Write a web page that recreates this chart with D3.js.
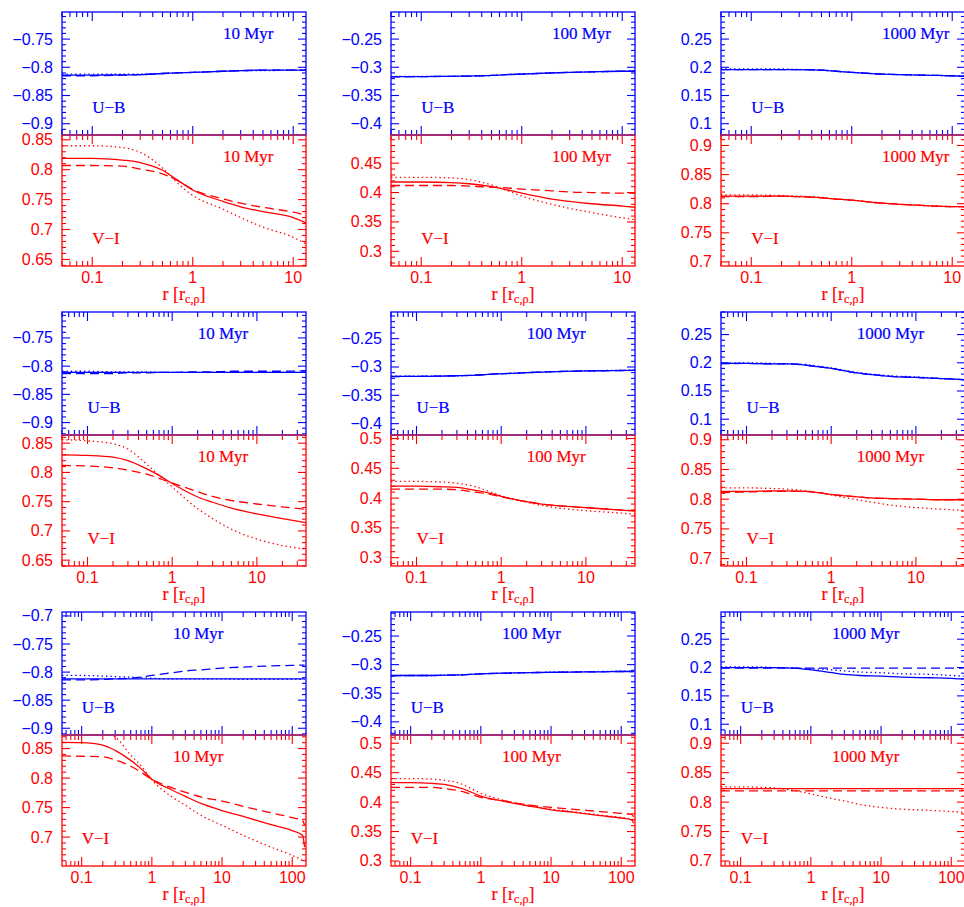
<!DOCTYPE html>
<html>
<head>
<meta charset="utf-8">
<script src="https://cdnjs.cloudflare.com/ajax/libs/d3/7.8.5/d3.min.js"></script>
<style>
  body { margin: 0; background: #fff; }
  svg { display: block; }
</style>
</head>
<body>
<svg id="chart" width="964" height="907"></svg>
<script>
// ---- data ----
const ages = ["10 Myr", "100 Myr", "1000 Myr"];

// radial sample points for each row, in units of r_c,rho
const rRow1 = [0.05, 0.1, 0.2, 0.3, 0.5, 0.7, 1, 2, 3, 5, 10, 13.4];
const rRow2 = [0.05, 0.1, 0.2, 0.3, 0.5, 0.7, 1, 2, 3, 5, 10, 20, 38];
const rRow3 = [0.0525, 0.1, 0.2, 0.3, 0.5, 0.7, 1, 2, 3, 5, 10, 20, 50, 100, 140, 150];

// x extent per row, y extent per panel
const xDomains = [[0.05, 13.4], [0.05, 38], [0.0525, 157]];
const ubDomains = [
  [[-0.92, -0.702], [-0.42, -0.202], [0.08, 0.298]],
  [[-0.922, -0.704], [-0.42, -0.203], [0.072, 0.29]],
  [[-0.912, -0.693], [-0.423, -0.208], [0.081, 0.298]]
];
const viDomains = [
  [[0.639, 0.858], [0.275, 0.498], [0.693, 0.918]],
  [[0.64, 0.864], [0.286, 0.506], [0.6875, 0.908]],
  [[0.651, 0.873], [0.2915, 0.514], [0.6915, 0.914]]
];

// row 1
const ub1_10 = {
  solid:  [-0.814, -0.814, -0.8135, -0.813, -0.811, -0.810, -0.809, -0.807, -0.806, -0.805, -0.805, -0.805],
  dashed: [-0.815, -0.815, -0.814, -0.813, -0.811, -0.810, -0.809, -0.807, -0.806, -0.805, -0.805, -0.805],
  dotted: [-0.812, -0.812, -0.812, -0.812, -0.811, -0.810, -0.809, -0.807, -0.806, -0.806, -0.805, -0.805]
};
const vi1_10 = {
  solid:  [0.819, 0.819, 0.816, 0.812, 0.799, 0.783, 0.766, 0.747, 0.738, 0.730, 0.720, 0.711],
  dashed: [0.807, 0.807, 0.806, 0.801, 0.793, 0.782, 0.767, 0.751, 0.744, 0.737, 0.729, 0.724],
  dotted: [0.840, 0.840, 0.837, 0.829, 0.803, 0.778, 0.757, 0.734, 0.720, 0.704, 0.687, 0.676]
};
const ub1_100 = {
  solid:  [-0.3165, -0.3165, -0.316, -0.3155, -0.3145, -0.313, -0.312, -0.310, -0.309, -0.308, -0.307, -0.307],
  dashed: [-0.317, -0.3165, -0.316, -0.3155, -0.3145, -0.313, -0.312, -0.310, -0.309, -0.308, -0.307, -0.307],
  dotted: [-0.316, -0.316, -0.316, -0.3155, -0.3145, -0.313, -0.312, -0.310, -0.309, -0.308, -0.307, -0.3065]
};
const vi1_100 = {
  solid:  [0.418, 0.418, 0.417, 0.415, 0.410, 0.405, 0.399, 0.389, 0.385, 0.381, 0.377, 0.375],
  dashed: [0.412, 0.412, 0.412, 0.411, 0.409, 0.408, 0.406, 0.403, 0.401, 0.400, 0.399, 0.399],
  dotted: [0.426, 0.426, 0.425, 0.422, 0.413, 0.404, 0.394, 0.380, 0.373, 0.366, 0.357, 0.354]
};
const ub1_1000 = {
  solid:  [0.196, 0.196, 0.196, 0.196, 0.195, 0.193, 0.191, 0.188, 0.187, 0.186, 0.185, 0.184],
  dashed: [0.196, 0.196, 0.196, 0.196, 0.195, 0.193, 0.191, 0.188, 0.187, 0.186, 0.185, 0.184],
  dotted: [0.197, 0.197, 0.197, 0.196, 0.195, 0.193, 0.191, 0.188, 0.187, 0.186, 0.185, 0.184]
};
const vi1_1000 = {
  solid:  [0.813, 0.813, 0.813, 0.812, 0.810, 0.808, 0.806, 0.801, 0.799, 0.797, 0.795, 0.795],
  dashed: [0.812, 0.812, 0.813, 0.812, 0.810, 0.808, 0.806, 0.801, 0.799, 0.797, 0.795, 0.795],
  dotted: [0.815, 0.815, 0.814, 0.813, 0.811, 0.808, 0.806, 0.801, 0.799, 0.797, 0.795, 0.794]
};

// row 2
const ub2_10 = {
  solid:  [-0.811, -0.811, -0.811, -0.811, -0.811, -0.811, -0.811, -0.811, -0.811, -0.811, -0.811, -0.811, -0.811],
  dashed: [-0.813, -0.813, -0.813, -0.812, -0.812, -0.811, -0.811, -0.810, -0.810, -0.809, -0.809, -0.809, -0.808],
  dotted: [-0.809, -0.809, -0.810, -0.810, -0.810, -0.811, -0.811, -0.811, -0.811, -0.811, -0.811, -0.811, -0.811]
};
const vi2_10 = {
  solid:  [0.830, 0.829, 0.826, 0.820, 0.806, 0.795, 0.781, 0.758, 0.749, 0.739, 0.729, 0.721, 0.714],
  dashed: [0.812, 0.811, 0.808, 0.804, 0.797, 0.790, 0.782, 0.767, 0.759, 0.752, 0.746, 0.741, 0.737],
  dotted: [0.856, 0.854, 0.849, 0.840, 0.814, 0.795, 0.775, 0.738, 0.721, 0.703, 0.686, 0.675, 0.669]
};
const ub2_100 = {
  solid:  [-0.3165, -0.3165, -0.316, -0.3155, -0.3145, -0.313, -0.312, -0.310, -0.309, -0.308, -0.307, -0.3065, -0.306],
  dashed: [-0.317, -0.3165, -0.316, -0.3155, -0.3145, -0.313, -0.312, -0.310, -0.309, -0.308, -0.307, -0.3065, -0.306],
  dotted: [-0.316, -0.316, -0.316, -0.3155, -0.3145, -0.313, -0.312, -0.310, -0.309, -0.308, -0.307, -0.306, -0.3055]
};
const vi2_100 = {
  solid:  [0.420, 0.420, 0.419, 0.418, 0.413, 0.409, 0.403, 0.394, 0.390, 0.387, 0.384, 0.381, 0.378],
  dashed: [0.415, 0.415, 0.415, 0.414, 0.410, 0.407, 0.402, 0.394, 0.390, 0.387, 0.384, 0.381, 0.379],
  dotted: [0.428, 0.428, 0.427, 0.425, 0.419, 0.412, 0.404, 0.393, 0.388, 0.383, 0.379, 0.376, 0.373]
};
const ub2_1000 = {
  solid:  [0.199, 0.199, 0.198, 0.198, 0.196, 0.193, 0.190, 0.182, 0.179, 0.176, 0.174, 0.172, 0.170],
  dashed: [0.198, 0.199, 0.198, 0.198, 0.196, 0.193, 0.190, 0.182, 0.179, 0.176, 0.174, 0.172, 0.170],
  dotted: [0.200, 0.200, 0.199, 0.198, 0.197, 0.194, 0.191, 0.183, 0.180, 0.177, 0.175, 0.172, 0.170]
};
const vi2_1000 = {
  solid:  [0.813, 0.813, 0.814, 0.814, 0.813, 0.811, 0.808, 0.804, 0.802, 0.801, 0.800, 0.799, 0.799],
  dashed: [0.811, 0.812, 0.813, 0.813, 0.813, 0.811, 0.808, 0.804, 0.802, 0.801, 0.800, 0.799, 0.799],
  dotted: [0.819, 0.819, 0.818, 0.817, 0.814, 0.811, 0.807, 0.799, 0.795, 0.790, 0.786, 0.783, 0.781]
};

// row 3
const ub3_10 = {
  solid:  [-0.812, -0.812, -0.812, -0.812, -0.812, -0.812, -0.812, -0.812, -0.812, -0.812, -0.812, -0.812, -0.812, -0.812, -0.812, -0.812],
  dashed: [-0.814, -0.814, -0.813, -0.812, -0.811, -0.809, -0.806, -0.801, -0.798, -0.796, -0.793, -0.791, -0.789, -0.788, -0.7875, -0.7875],
  dotted: [-0.806, -0.806, -0.807, -0.808, -0.809, -0.810, -0.811, -0.812, -0.812, -0.812, -0.812, -0.813, -0.813, -0.813, -0.813, -0.813]
};
const vi3_10 = {
  solid:  [0.8605, 0.860, 0.856, 0.847, 0.830, 0.816, 0.798, 0.779, 0.769, 0.757, 0.745, 0.735, 0.721, 0.711, 0.703, 0.683],
  dashed: [0.8375, 0.837, 0.836, 0.831, 0.820, 0.810, 0.798, 0.783, 0.776, 0.768, 0.761, 0.752, 0.741, 0.733, 0.728, 0.720],
  dotted: [0.885, 0.884, 0.879, 0.870, 0.839, 0.821, 0.797, 0.767, 0.754, 0.737, 0.720, 0.703, 0.683, 0.669, 0.660, 0.657]
};
const ub3_100 = {
  solid:  [-0.319, -0.319, -0.319, -0.3185, -0.318, -0.317, -0.316, -0.315, -0.3145, -0.314, -0.3135, -0.313, -0.3125, -0.312, -0.312, -0.312],
  dashed: [-0.3195, -0.319, -0.319, -0.3185, -0.318, -0.317, -0.316, -0.315, -0.3145, -0.314, -0.3135, -0.313, -0.3125, -0.312, -0.312, -0.312],
  dotted: [-0.319, -0.319, -0.319, -0.3185, -0.318, -0.317, -0.316, -0.315, -0.3145, -0.314, -0.313, -0.3125, -0.312, -0.3115, -0.3115, -0.3115]
};
const vi3_100 = {
  solid:  [0.433, 0.433, 0.432, 0.430, 0.424, 0.418, 0.410, 0.402, 0.398, 0.393, 0.387, 0.383, 0.377, 0.373, 0.370, 0.364],
  dashed: [0.425, 0.425, 0.425, 0.423, 0.419, 0.414, 0.408, 0.403, 0.399, 0.395, 0.391, 0.388, 0.384, 0.381, 0.379, 0.375],
  dotted: [0.440, 0.440, 0.439, 0.437, 0.432, 0.424, 0.415, 0.404, 0.399, 0.394, 0.388, 0.384, 0.378, 0.374, 0.371, 0.370]
};
const ub3_1000 = {
  solid:  [0.200, 0.200, 0.200, 0.200, 0.199, 0.198, 0.196, 0.191, 0.188, 0.186, 0.185, 0.183, 0.182, 0.181, 0.180, 0.180],
  dashed: [0.199, 0.199, 0.199, 0.199, 0.199, 0.199, 0.199, 0.199, 0.199, 0.199, 0.199, 0.199, 0.199, 0.199, 0.199, 0.199],
  dotted: [0.201, 0.201, 0.201, 0.200, 0.200, 0.199, 0.198, 0.196, 0.194, 0.192, 0.191, 0.189, 0.188, 0.186, 0.185, 0.185]
};
const vi3_1000 = {
  solid:  [0.823, 0.823, 0.823, 0.823, 0.823, 0.823, 0.823, 0.823, 0.823, 0.823, 0.823, 0.823, 0.823, 0.823, 0.823, 0.823],
  dashed: [0.819, 0.819, 0.819, 0.819, 0.819, 0.819, 0.819, 0.819, 0.819, 0.819, 0.819, 0.819, 0.819, 0.819, 0.819, 0.819],
  dotted: [0.826, 0.826, 0.825, 0.824, 0.821, 0.818, 0.814, 0.806, 0.802, 0.796, 0.791, 0.788, 0.786, 0.784, 0.783, 0.783]
};

const rGrids = [rRow1, rRow2, rRow3];
const panels = [
  [ub1_10, vi1_10], [ub1_100, vi1_100], [ub1_1000, vi1_1000],
  [ub2_10, vi2_10], [ub2_100, vi2_100], [ub2_1000, vi2_1000],
  [ub3_10, vi3_10], [ub3_100, vi3_100], [ub3_1000, vi3_1000]
];

// ---- layout ----
const blue = "#0000ff", red = "#ff0000", purple = "#9a2f86";
const colLeft = [62, 391, 721], plotW = 244;
const rowTop = [12, 312, 612], ubH = 123, viH = 131;
const dashes = { solid: null, dashed: "9,5", dotted: "1.4,3" };
const sans = "'Liberation Sans', Arial, sans-serif";
const serif = "'Liberation Serif', 'Times New Roman', serif";
const fmt = d3.format("~g");

const svg = d3.select("#chart");
let clipId = 0;

function yTickList(domain) {
  const out = [];
  const k0 = Math.ceil(domain[0] * 100 - 1e-9), k1 = Math.floor(domain[1] * 100 + 1e-9);
  for (let k = k0; k <= k1; k++) out.push({ v: k / 100, major: k % 5 === 0 });
  return out;
}

function isDecade(v) {
  const l = Math.log10(v);
  return Math.abs(l - Math.round(l)) < 1e-6;
}

// one sub panel (U-B or V-I) with its frame, ticks, curves and labels
function drawSub(x, top, h, domain, series, rGrid, color, name, age, isBottom) {
  const y = d3.scaleLinear().domain(domain).range([top + h, top]);
  const [xl, xr] = x.range();
  const g = svg.append("g");

  const id = "clip" + clipId++;
  svg.append("clipPath").attr("id", id)
    .append("rect").attr("x", xl).attr("y", top).attr("width", xr - xl).attr("height", h);

  const line = d3.line()
    .x((d, i) => x(rGrid[i]))
    .y(d => y(d))
    .curve(d3.curveMonotoneX);

  ["dotted", "dashed", "solid"].forEach(function (k) {
    g.append("path")
      .attr("clip-path", "url(#" + id + ")")
      .attr("d", line(series[k]))
      .attr("fill", "none")
      .attr("stroke", color)
      .attr("stroke-width", 1.3)
      .attr("stroke-dasharray", dashes[k]);
  });

  // y ticks, left and right, pointing inward
  yTickList(domain).forEach(function (t) {
    const len = t.major ? 8 : 4;
    const yy = y(t.v);
    g.append("line").attr("x1", xl).attr("x2", xl + len).attr("y1", yy).attr("y2", yy)
      .attr("stroke", color).attr("stroke-width", 1.1);
    g.append("line").attr("x1", xr).attr("x2", xr - len).attr("y1", yy).attr("y2", yy)
      .attr("stroke", color).attr("stroke-width", 1.1);
    if (t.major) {
      g.append("text")
        .attr("x", xl - 9).attr("y", yy)
        .attr("text-anchor", "end").attr("dominant-baseline", "central")
        .attr("font-family", sans).attr("font-size", 16).attr("fill", color)
        .text(fmt(t.v));
    }
  });

  // x ticks, top and bottom, pointing inward
  x.ticks().forEach(function (v) {
    const len = isDecade(v) ? 9 : 5;
    const xx = x(v);
    g.append("line").attr("x1", xx).attr("x2", xx).attr("y1", top).attr("y2", top + len)
      .attr("stroke", color).attr("stroke-width", 1.1);
    g.append("line").attr("x1", xx).attr("x2", xx).attr("y1", top + h).attr("y2", top + h - len)
      .attr("stroke", color).attr("stroke-width", 1.1);
    if (isBottom && isDecade(v)) {
      g.append("text")
        .attr("x", xx).attr("y", top + h + 17)
        .attr("text-anchor", "middle")
        .attr("font-family", sans).attr("font-size", 16).attr("fill", color)
        .text(fmt(v));
    }
  });

  g.append("rect")
    .attr("x", xl).attr("y", top).attr("width", xr - xl).attr("height", h)
    .attr("fill", "none").attr("stroke", color).attr("stroke-width", 1.3);

  g.append("text")
    .attr("x", x(2)).attr("y", top + 27)
    .attr("font-family", serif).attr("font-size", 17).attr("fill", color)
    .attr("stroke", color).attr("stroke-width", 0.2)
    .text(age);
  g.append("text")
    .attr("x", x(0.1)).attr("y", top + h - 22)
    .attr("font-family", serif).attr("font-size", 17).attr("fill", color)
    .attr("stroke", color).attr("stroke-width", 0.2)
    .text(name);
}

panels.forEach(function (p, i) {
  const row = Math.floor(i / 3), col = i % 3;
  const x0 = colLeft[col], y0 = rowTop[row];
  const x = d3.scaleLog().domain(xDomains[row]).range([x0, x0 + plotW]);

  drawSub(x, y0, ubH, ubDomains[row][col], p[0], rGrids[row], blue, "U\u2212B", ages[col], false);
  drawSub(x, y0 + ubH, viH, viDomains[row][col], p[1], rGrids[row], red, "V\u2212I", ages[col], true);

  // shared border between the two sub panels
  svg.append("line")
    .attr("x1", x0).attr("x2", x0 + plotW).attr("y1", y0 + ubH).attr("y2", y0 + ubH)
    .attr("stroke", purple).attr("stroke-width", 1.6);

  // x axis title r [r_c,rho]
  const t = svg.append("text")
    .attr("x", x0 + plotW / 2).attr("y", y0 + ubH + viH + 34)
    .attr("text-anchor", "middle")
    .attr("font-family", serif).attr("font-size", 18).attr("fill", red)
    .attr("stroke", red).attr("stroke-width", 0.2);
  t.append("tspan").text("r [r");
  t.append("tspan").attr("dy", 3).attr("font-size", 12).text("c,\u03C1");
  t.append("tspan").attr("dy", -3).text("]");
});
</script>
</body>
</html>
